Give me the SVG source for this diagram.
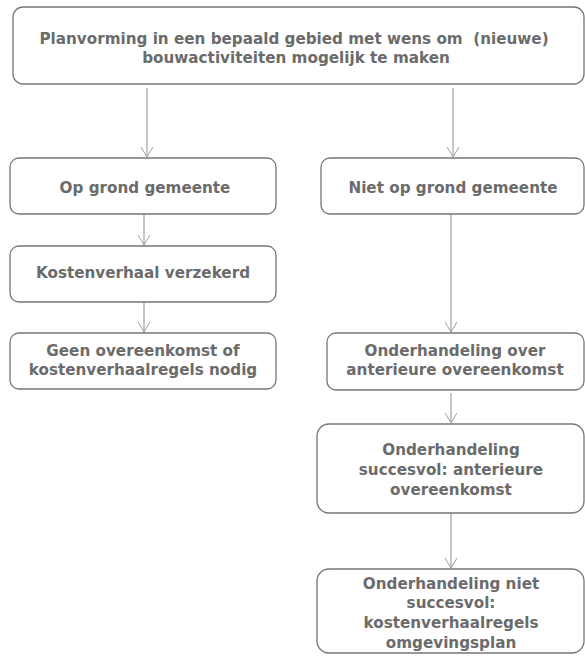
<svg xmlns="http://www.w3.org/2000/svg" width="585" height="656" viewBox="0 0 585 656">
<defs>
<marker id="arr" viewBox="0 0 12 14" refX="11" refY="7" markerWidth="12" markerHeight="14" markerUnits="userSpaceOnUse" orient="auto">
<path d="M1,1 L11,7 L1,13" fill="none" stroke="#a0a0a0" stroke-width="1"/>
</marker>
</defs>
<style>
.box{fill:#ffffff;stroke:#767676;stroke-width:1.3}
.t{font-family:"DejaVu Sans",sans-serif;font-weight:bold;font-size:15.2px;fill:#6b6b6b;text-anchor:middle}
.c{stroke:#a0a0a0;stroke-width:1.2;fill:none}
</style>
<rect width="585" height="656" fill="#ffffff"/>
<g id="connectors">
<line class="c" x1="147" y1="88" x2="147" y2="157" marker-end="url(#arr)"/>
<line class="c" x1="453" y1="88" x2="453" y2="157" marker-end="url(#arr)"/>
<line class="c" x1="144" y1="214" x2="144" y2="245" marker-end="url(#arr)"/>
<line class="c" x1="144" y1="302" x2="144" y2="332" marker-end="url(#arr)"/>
<line class="c" x1="451" y1="214" x2="451" y2="332" marker-end="url(#arr)"/>
<line class="c" x1="451" y1="393" x2="451" y2="423" marker-end="url(#arr)"/>
<line class="c" x1="451" y1="513" x2="451" y2="568" marker-end="url(#arr)"/>
</g>
<g id="n1">
<rect class="box" x="13" y="7" width="571" height="77" rx="10"/>
<text class="t" x="294" y="44">Planvorming in een bepaald gebied met wens om&#160; (nieuwe)</text>
<text class="t" x="296" y="63">bouwactiviteiten mogelijk te maken</text>
</g>
<g id="n2">
<rect class="box" x="10" y="158" width="266" height="56" rx="9"/>
<text class="t" x="145" y="193">Op grond gemeente</text>
</g>
<g id="n3">
<rect class="box" x="10" y="246" width="266" height="56" rx="9"/>
<text class="t" x="143" y="278">Kostenverhaal verzekerd</text>
</g>
<g id="n4">
<rect class="box" x="10" y="333" width="266" height="56" rx="9"/>
<text class="t" x="143" y="356">Geen overeenkomst of</text>
<text class="t" x="143" y="375">kostenverhaalregels nodig</text>
</g>
<g id="n5">
<rect class="box" x="321" y="158" width="263" height="56" rx="9"/>
<text class="t" x="453" y="193">Niet op grond gemeente</text>
</g>
<g id="n6">
<rect class="box" x="327" y="333" width="257" height="57" rx="9"/>
<text class="t" x="455" y="356">Onderhandeling over</text>
<text class="t" x="455" y="375">anterieure overeenkomst</text>
</g>
<g id="n7">
<rect class="box" x="317" y="424" width="267" height="89" rx="12"/>
<text class="t" x="451" y="455">Onderhandeling</text>
<text class="t" x="451" y="475">succesvol: anterieure</text>
<text class="t" x="451" y="495">overeenkomst</text>
</g>
<g id="n8">
<rect class="box" x="317" y="569" width="267" height="84" rx="12"/>
<text class="t" x="451" y="589">Onderhandeling niet</text>
<text class="t" x="451" y="608">succesvol:</text>
<text class="t" x="451" y="628">kostenverhaalregels</text>
<text class="t" x="451" y="648">omgevingsplan</text>
</g>
</svg>
